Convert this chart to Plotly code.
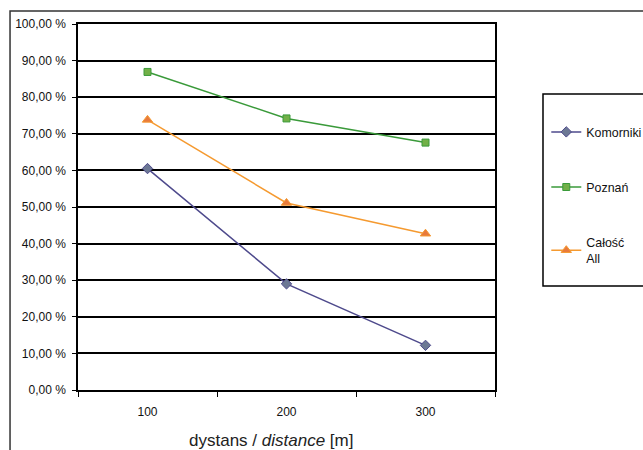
import plotly.graph_objects as go

categories = ["100", "200", "300"]
komorniki = [60.5, 29.0, 12.2]
poznan = [86.9, 74.2, 67.6]
calosc = [73.8, 51.1, 42.7]
series_names = ["Komorniki", "Poznań", "Całość<br>All"]
y_tickvals = [0, 10, 20, 30, 40, 50, 60, 70, 80, 90, 100]
y_ticktext = ["0,00 %", "10,00 %", "20,00 %", "30,00 %", "40,00 %", "50,00 %",
              "60,00 %", "70,00 %", "80,00 %", "90,00 %", "100,00 %"]

fig = go.Figure()
fig.add_trace(go.Scatter(
    x=categories, y=komorniki, name=series_names[0], legendgroup="g1",
    mode="lines+markers",
    line=dict(color="#4E4A8C", width=1.5),
    marker=dict(symbol="diamond", size=8, color="#6C7894", line=dict(color="#4E4A8C", width=1)),
))
fig.add_trace(go.Scatter(
    x=categories, y=poznan, name=series_names[1], legendgroup="g2",
    mode="lines+markers",
    line=dict(color="#3A9A3A", width=1.5),
    marker=dict(symbol="square", size=7, color="#72B048", line=dict(color="#3A9A3A", width=1)),
))
fig.add_trace(go.Scatter(
    x=categories, y=calosc, name=series_names[2], legendgroup="g3",
    mode="lines+markers",
    line=dict(color="#F59A30", width=1.5),
    marker=dict(symbol="triangle-up", size=9, color="#E87A3C", line=dict(color="#F59A30", width=1)),
))

font_family = "Liberation Sans, Arial, sans-serif"

fig.update_layout(
    width=643, height=450,
    paper_bgcolor="white", plot_bgcolor="white",
    margin=dict(l=78, r=148, t=24, b=60, autoexpand=False),
    font=dict(family=font_family, size=12, color="#111111"),
    showlegend=True,
    legend=dict(
        x=1.123, xanchor="left", y=0.745, yanchor="top",
        bgcolor="rgba(0,0,0,0)", borderwidth=0,
        tracegroupgap=36, font=dict(size=12.4, color="#111111"),
        valign="middle",
    ),
    xaxis=dict(
        type="category", range=[-0.5, 2.5],
        showgrid=False, showline=True, linecolor="black", linewidth=1.5,
        mirror=True, ticks="outside", tickson="boundaries", ticklen=5,
        tickcolor="black", tickfont=dict(size=12, color="#111111"),
        ticklabelstandoff=10,
    ),
    yaxis=dict(
        range=[0, 100], tickvals=y_tickvals, ticktext=y_ticktext,
        showgrid=True, gridcolor="black", gridwidth=1.5,
        showline=True, linecolor="black", linewidth=1.5, mirror=True,
        ticks="outside", ticklen=4, tickcolor="black",
        tickfont=dict(size=12, color="#111111"), zeroline=False,
        ticklabelstandoff=4,
    ),
    shapes=[
        dict(type="rect", xref="paper", yref="paper",
             x0=-0.163, x1=1.6, y0=-0.5, y1=1.0355,
             line=dict(color="#333333", width=1.5), layer="below"),
        dict(type="rect", xref="paper", yref="paper",
             x0=1.1151, x1=1.6, y0=0.2842, y1=0.8087,
             line=dict(color="black", width=1.5), layer="below"),
    ],
    annotations=[
        dict(text="dystans / <i>distance</i> [m]", xref="paper", yref="paper",
             x=0.462, y=-0.137, xanchor="center", yanchor="middle",
             showarrow=False, font=dict(size=17, color="#222222")),
    ],
)

fig.write_html(
    "out.html",
    config={"displayModeBar": False},
    post_script="document.body.style.margin='0px';document.body.style.overflow='hidden';",
)
